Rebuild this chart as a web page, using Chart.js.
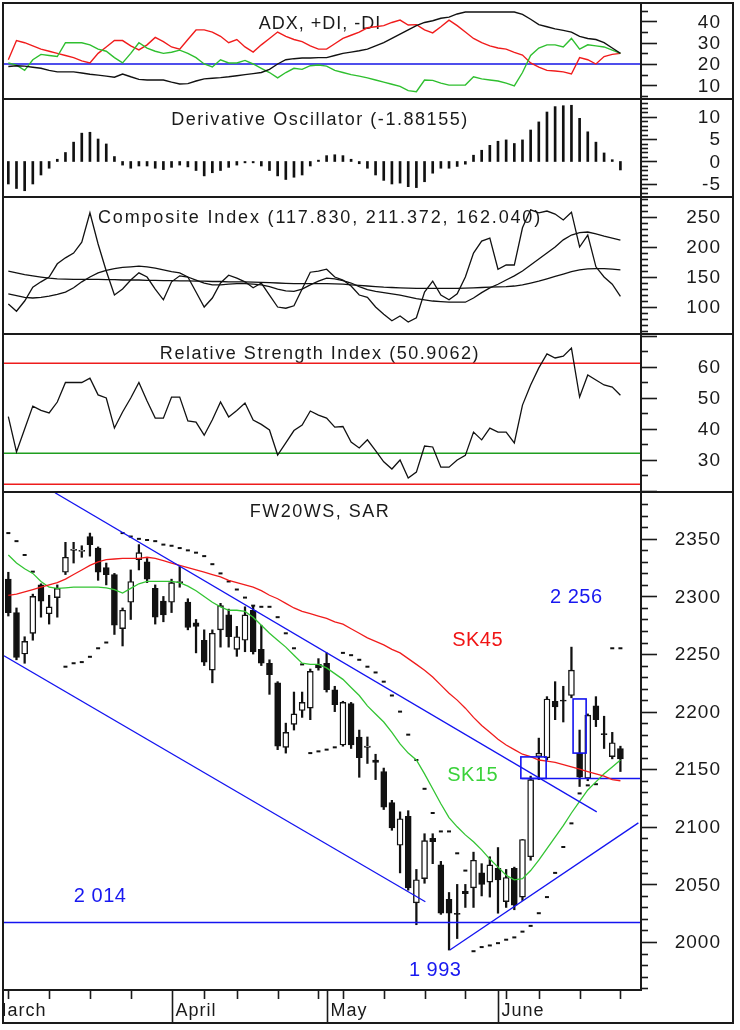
<!DOCTYPE html>
<html lang="en">
<head>
<meta charset="UTF-8">
<title>FW20WS, SAR</title>
<script src="https://cdn.jsdelivr.net/npm/chart.js"></script>
<style>
  html, body {
    margin: 0;
    padding: 0;
    background: #fff;
  }
  #wrap {
    position: relative;
    width: 740px;
    height: 1030px;
    overflow: hidden;
  }
  canvas {
    position: absolute;
    left: 4px;
  }
  .rule {
    position: absolute;
    background: #1a1a1a;
  }
  #frame {
    position: absolute;
    left: 2px;
    top: 2px;
    width: 732px;
    height: 1022px;
    border: 2px solid #1a1a1a;
    box-sizing: border-box;
  }
</style>
</head>
<body>
<div id="wrap">
  <canvas id="adx" width="718" height="94" style="top:4px"></canvas>
  <canvas id="dosc" width="718" height="96" style="top:100px"></canvas>
  <canvas id="comp" width="718" height="135" style="top:198px"></canvas>
  <canvas id="rsi" width="718" height="156" style="top:335px"></canvas>
  <canvas id="price" width="718" height="531" style="top:493px"></canvas>

  <div class="rule" style="left:2px;top:98px;width:732px;height:2px"></div>
  <div class="rule" style="left:2px;top:196px;width:732px;height:2px"></div>
  <div class="rule" style="left:2px;top:333px;width:732px;height:2px"></div>
  <div class="rule" style="left:2px;top:491px;width:732px;height:2px"></div>
  <div class="rule" style="left:2px;top:989px;width:640px;height:2px"></div>
  <div class="rule" style="left:640px;top:2px;width:2px;height:988px"></div>
  <div id="frame"></div>
</div>

<script>
  // ---- data (one entry per trading day, March .. June) ----
  const opens  = [2315,2286,2250,2268,2310,2285,2299,2321,2340,2339, 2352,2342,2325,2319,2272,2295,2332,2330,2307,2296,
                  2295,2312,2295,2277,2262,2236,2271,2284,2254,2262, 2288,2254,2242,2225,2169,2189,2201,2203,2241,2242,
                  2219,2171,2207,2178,2169,2158,2148,2121,2084,2109, 2034,2055,2090,2067,2037,2025,2044,2047,2060,2052,
                  2064,2035,2064,2039,2074,2161,2160,2209,2210,2214, 2164,2142,2205,2181,2161,2168];
  const highs  = [2321,2290,2265,2302,2311,2301,2310,2347,2347,2344, 2355,2343,2329,2320,2290,2323,2345,2333,2310,2300,
                  2315,2326,2298,2280,2271,2271,2294,2289,2274,2291, 2292,2275,2245,2226,2190,2217,2217,2237,2246,2251,
                  2222,2209,2208,2184,2178,2163,2151,2123,2113,2114, 2063,2094,2094,2070,2043,2050,2050,2078,2068,2074,
                  2082,2063,2065,2089,2144,2177,2213,2226,2222,2256, 2184,2198,2213,2196,2182,2170];
  const lows   = [2283,2245,2242,2262,2282,2276,2282,2319,2329,2334, 2335,2314,2310,2267,2257,2280,2323,2312,2276,2278,
                  2286,2308,2271,2251,2240,2225,2256,2256,2248,2252, 2250,2240,2215,2167,2164,2184,2195,2193,2236,2217,
                  2200,2170,2168,2143,2155,2141,2115,2097,2060,2045, 2015,2051,2068,2024,1993,2003,2030,2030,2040,2039,
                  2025,2030,2028,2036,2071,2141,2158,2193,2191,2212, 2135,2140,2187,2168,2159,2148];
  const closes = [2286,2247,2261,2300,2296,2291,2307,2334,2341,2340, 2345,2321,2319,2275,2288,2313,2338,2315,2282,2284,
                  2312,2313,2273,2274,2243,2268,2292,2265,2265,2284, 2252,2242,2232,2170,2182,2198,2208,2235,2238,2219,
                  2206,2208,2171,2160,2170,2156,2117,2099,2107,2047, 2054,2088,2087,2025,2025,2024,2042,2071,2050,2067,
                  2054,2056,2032,2089,2141,2164,2211,2204,2209,2236, 2143,2197,2193,2180,2173,2159];

  const sk15 = [2336,2329,2324,2320,2313,2308,2307,2307.5,2308,2308, 2308,2308,2307.5,2306,2303,2307,2311,2313,2313,2313,
                2313,2312,2309,2305,2300,2295,2291,2288,2288,2287, 2282,2275,2268,2262,2256,2249,2242,2241,2241,2238,
                2233,2228,2221,2214,2205,2198,2191,2182,2172,2164, 2158,2146,2133,2120,2108,2100,2093,2087,2080,2072,
                2065,2058,2054,2055,2062,2071,2081,2091,2101,2112, 2122,2132,2139,2146,2152,2158];
  const sk45 = [2301,2302,2304,2306,2308,2310,2312,2315,2319,2323, 2327,2330,2332,2332.5,2333,2333,2333,2334,2333,2331,
                2329,2327,2325,2323,2321,2319,2317,2314,2312,2310, 2308,2305,2301,2298,2294,2290,2287,2285,2283,2281,
                2278,2276,2272,2268,2264,2261,2258,2254,2251,2246, 2241,2236,2230,2223,2216,2210,2203,2195,2188,2182,
                2176,2171,2167,2163,2161,2158,2157,2156,2154,2152, 2150,2148,2146,2144,2141,2140];
  const sar  = [2355,2348,2336,2321.5,null,null,null,2239,2242,2243, 2247.6,2255,2260,null,2355,2352,2350,2349,2348,2345,
                2344,2342,2340,2338,2335,2328,2320,2313,2306,2299, 2292,2291,2291,2282,2268,2255,2241,2164,2165.5,2167,
                2169,2251,2249,2245,2239,2234,2226,2214,2200,2180, 2158,2133,2112,2096,2096,2077,2062,1992,1995.6,1997,
                1999,2002,2004,2009,2014,2025,2039,2060,2082.5,2103, 2129,2136,2137,null,2255,2255];

  const adx     = [18.8,19.2,19,18.5,18,17,16.3,16.3,16.3,15.8, 15.2,14.8,14.3,13.8,15.3,14,12.8,12.5,12.5,12.5,
                   11.5,10.6,10.8,12,13,13.3,13.6,14,14.5,15, 15.5,16,17.5,20,22,22.5,22.8,22.8,23,23,
                   24,25,25.6,26.2,27,28.5,30,32,34,36, 38,39.5,40.3,41.5,42,43.5,44.4,44.4,44.4,44.4,
                   44.4,44.4,44.4,43.3,41,38.5,37.5,36.5,35.8,35, 33,32,31.5,30,27.5,25];
  const plusDI  = [20.5,19.5,17,22,24.5,24,23.5,30,30,30, 29,27,26,23,20.5,25,30,27.5,26,25,
                   25.5,26.5,25,23,20,18.6,22,20.5,20.5,21.7, 20,18,16,13.5,16,18,17.5,19.2,19.5,19,
                   17,16,15,14.3,13.5,12.5,11.5,10.5,9.5,7.5, 7,12.5,12.3,11,10.1,10.1,10.1,14,13,12.5,
                   12,11,9.7,16,24,27.5,29,29,28,32, 27,29,28.5,28,26.5,25];
  const minusDI = [22,31,30,28.5,27,26,25,24,23,21.5, 20.5,25,28,31,31,28.5,26.6,29,32.5,30.5,
                   28,27,31.5,36,36,35,33,30,31.5,28, 25.6,29,32,35,33,31.5,30.5,28.5,27,27,
                   29.5,32,33.5,35,37,37.5,38,39.5,40.6,38.3, 38.5,36,34.6,37.5,40.6,38,35,32,30,28.5,
                   27.5,27,25.5,24.2,20.5,18.5,17,16.7,16.3,15.3, 23,22,20,23.5,24.5,25];
  const adxLevel = 20;

  const derivOsc = [-5,-6,-6.5,-5,-3,-1.5,0.5,2,4.3,6.3, 6.5,5,3.9,1.1,-0.8,-1.5,-1,-1,-1.5,-1.8,
                    -1.3,-0.8,-1.2,-2,-3.2,-2.5,-2,-1.3,-0.8,-0.3, -0.3,-1,-2,-3.2,-4,-3.5,-3,-1,0.3,1.3,
                    1.5,1.3,0.5,-0.5,-1.5,-3,-4.2,-5,-4.8,-5.6, -5.8,-4.5,-2.6,-1.5,-1.5,-1.1,-0.6,1.4,2.5,3.6,
                    4.5,4.8,4,4.8,7,8.8,11,12.2,12.4,12.5, 9.6,6.6,4.3,1.9,0.4,-1.88155];

  const composite = [105,93,110,133,142,150,172,182,190,208, 257,205,160,120,130,145,157,150,130,112,
                     142,152,150,125,100,115,140,153,148,142, 132,140,120,100,98,102,130,158,160,163,
                     150,145,135,120,116,100,88,77,85,75, 82,125,143,120,112,122,150,190,210,215,
                     163,170,170,232,262,257,260,255,245,258, 200,220,167,150,138,117.83];
  const compFast = [122,119,116,115,116,118,121,125,132,142, 150,157,161,164,166,167,168,167,165,162,
                    159,157,150,145,140,137,137,138,139,139, 138,137,134,130,127,126,130,137,143,148,
                    147,144,140,134,129,126,124,122,120,117, 114,112,110,109,108,108,108,115,124,132,
                    138,145,152,160,170,180,190,200,212,220, 224,225,222,218,215,211.372];
  const compSlow = [160,157,154,152,150,148,147,146.5,146,146, 146,146,145.5,145.5,145,145,145,144.5,144.5,144,
                    144,143.5,143.5,143,143,142.5,142.5,142,142,142, 141.5,141,140.5,140,139.5,139,139,139,139,139,
                    138.5,138,137,136,135,134,133,132.5,132,131.5, 131,131,131,131,131,131,131.5,132,132.5,133,
                    133.5,134,135,137,140,143,147,151,155,159, 162,163.5,164,164,163,162.04];

  const rsi = [44,32.6,40,47.4,46,45.2,48.7,55,55,55, 56.4,51,50,40.3,45.5,50,55,49,43.5,43.5,
               50.3,50.3,42.6,42.2,38,43,48.7,43.9,46,48.4, 42.9,41.5,39.7,31.6,35.5,39.5,41.3,45.8,44.5,43.5,
               40.6,40.8,35.8,33.9,36.5,33,29.4,27.1,30,24.2, 26.1,34.5,34.2,27.7,27.7,30,31.5,39,36.5,40.3,
               39,39,35.5,47.7,54.2,59.7,64.2,62.9,63.5,66.1, 50.3,57.4,55.8,54.2,53.5,50.9062];
  const rsiLevels = [61.2, 32.2, 22.2];

  // trend lines: [fromDay, fromValue, toDay, toValue]
  const trendLines = [[5.72, 2390, 72.1, 2113], [-0.53, 2248.5, 51.1, 2035], [54.1, 1993, 77.2, 2103.4]];
  const supportLevel = 2017;
  const breakoutLevel = [62.9, 2142];
  const boxes = [[62.8, 2142, 65.9, 2160.7], [69.2, 2164, 70.8, 2211]];
  const notes = [['SK45', 57.5, 2261.5, '#f01414'], ['SK15', 56.9, 2144.5, '#3ad23a'],
                 ['2 256', 69.6, 2299, '#1818f0'], ['2 014', 11.25, 2039.5, '#1818f0'], ['1 993', 52.3, 1975.7, '#1818f0']];

  const monthNames = ['March', 'April', 'May', 'June'];
  const monthStarts = [-2.5, 20, 39, 60];
  const weekTicks = [0, 5, 10, 15, 24, 28, 33, 38, 41, 46, 51, 56, 61, 65, 70, 75];

  // ---- drawing ----
  const X_MIN = -0.53, X_MAX = 77.4;
  const FONT = '"Liberation Sans", Arial, sans-serif';
  const INK = '#1a1a1a';

  const pts = arr => arr.map((v, i) => (v == null ? null : { x: i, y: v })).filter(Boolean);

  function line(arr, color, width) {
    return { type: 'line', data: pts(arr), borderColor: color, borderWidth: width || 1.3,
             pointRadius: 0, tension: 0, fill: false, order: 1 };
  }
  function level(value, color, from) {
    return { type: 'line', data: [{ x: from == null ? X_MIN : from, y: value }, { x: X_MAX, y: value }],
             borderColor: color, borderWidth: 1.5, pointRadius: 0, order: 2 };
  }

  const paneAxis = {
    id: 'paneAxis',
    beforeDatasetsDraw(chart, args, o) {
      const { ctx, chartArea: a } = chart;
      ctx.save();
      ctx.font = '18px ' + FONT;
      ctx.letterSpacing = o.spacing || '1.5px';
      ctx.fillStyle = INK;
      ctx.textAlign = 'center';
      ctx.textBaseline = 'alphabetic';
      ctx.fillText(o.title, a.left + 316, a.top + o.titleY);
      ctx.restore();
    },
    afterDraw(chart, args, o) {
      const { ctx, chartArea: a } = chart;
      const ys = chart.scales.y;
      ctx.save();
      ctx.strokeStyle = INK;
      ctx.lineWidth = 1.6;
      const k0 = Math.ceil(ys.min / o.minor), k1 = Math.floor(ys.max / o.minor);
      for (let k = k0; k <= k1; k++) {
        const v = k * o.minor;
        const p = Math.round(ys.getPixelForValue(v)) + 0.5;
        const big = Math.abs(v % o.major) < 1e-6;
        ctx.beginPath();
        ctx.moveTo(a.right, p);
        ctx.lineTo(a.right + (big ? 17 : 8), p);
        ctx.stroke();
      }
      ctx.font = '19px ' + FONT;
      ctx.letterSpacing = '1px';
      ctx.fillStyle = INK;
      ctx.textAlign = 'right';
      ctx.textBaseline = 'middle';
      o.labels.forEach(v => ctx.fillText(String(v), chart.width - 1, ys.getPixelForValue(v) + 1));
      ctx.restore();
    }
  };

  function paneOptions(yMin, yMax, axis, bottomPad) {
    return {
      responsive: false,
      animation: false,
      devicePixelRatio: 1,
      events: [],
      layout: { autoPadding: false, padding: { left: 0, top: 0, right: 82, bottom: bottomPad || 0 } },
      scales: {
        x: { type: 'linear', min: X_MIN, max: X_MAX, offset: false, display: false },
        y: { type: 'linear', min: yMin, max: yMax, beginAtZero: false, display: false }
      },
      plugins: { legend: { display: false }, tooltip: { enabled: false }, paneAxis: axis }
    };
  }

  // ADX, +DI, -DI
  new Chart(document.getElementById('adx'), {
    type: 'line',
    data: { datasets: [
      line(adx, '#111', 1.4), line(plusDI, '#2fbf2f', 1.4), line(minusDI, '#f01c1c', 1.4),
      level(adxLevel, '#1414e6')
    ] },
    options: paneOptions(4.04, 48.17, { title: 'ADX, +DI, -DI', titleY: 25, spacing: '1px', minor: 5, major: 10, labels: [10, 20, 30, 40] }),
    plugins: [paneAxis]
  });

  // Derivative Oscillator
  new Chart(document.getElementById('dosc'), {
    type: 'line',
    data: { datasets: [{
      type: 'bar', data: pts(derivOsc), backgroundColor: '#111', barThickness: 2, grouped: false
    }] },
    options: paneOptions(-7.67, 13.67, { title: 'Derivative Oscillator (-1.88155)', titleY: 25, spacing: '1.55px', minor: 1, major: 5, labels: [10, 5, 0, -5] }),
    plugins: [paneAxis]
  });

  // Composite Index
  new Chart(document.getElementById('comp'), {
    type: 'line',
    data: { datasets: [line(composite, '#111', 1.3), line(compFast, '#111', 1.3), line(compSlow, '#111', 1.3)] },
    options: paneOptions(56.7, 281.7, { title: 'Composite Index (117.830, 211.372, 162.040)', titleY: 25, spacing: '1.85px', minor: 10, major: 50, labels: [100, 150, 200, 250] }),
    plugins: [paneAxis]
  });

  // Relative Strength Index
  new Chart(document.getElementById('rsi'), {
    type: 'line',
    data: { datasets: [
      line(rsi, '#111', 1.3),
      level(rsiLevels[0], '#ee1c1c'), level(rsiLevels[1], '#1f9e1f'), level(rsiLevels[2], '#ee1c1c')
    ] },
    options: paneOptions(20.0, 70.32, { title: 'Relative Strength Index (50.9062)', titleY: 24, spacing: '1.55px', minor: 5, major: 10, labels: [30, 40, 50, 60] }),
    plugins: [paneAxis]
  });

  // price: candles, SAR, averages, trend lines
  const days = opens.map((_, i) => i);
  const upDays = days.filter(i => closes[i] >= opens[i]);
  const downDays = days.filter(i => closes[i] < opens[i]);

  const priceExtras = {
    id: 'priceExtras',
    afterDatasetsDraw(chart) {
      const { ctx } = chart;
      const xs = chart.scales.x, ys = chart.scales.y;
      ctx.save();
      ctx.strokeStyle = '#1414f0';
      ctx.lineWidth = 1.6;
      boxes.forEach(([x0, v0, x1, v1]) => {
        const l = xs.getPixelForValue(x0), r = xs.getPixelForValue(x1);
        const t = ys.getPixelForValue(v1), b = ys.getPixelForValue(v0);
        ctx.strokeRect(l, t, r - l, b - t);
      });
      ctx.font = '20px ' + FONT;
      ctx.letterSpacing = '0.5px';
      ctx.textAlign = 'center';
      ctx.textBaseline = 'middle';
      notes.forEach(([text, x, v, color]) => {
        ctx.fillStyle = color;
        ctx.fillText(text, xs.getPixelForValue(x), ys.getPixelForValue(v));
      });
      ctx.restore();
    },
    afterDraw(chart) {
      const { ctx, chartArea: a } = chart;
      const xs = chart.scales.x;
      ctx.save();
      ctx.strokeStyle = INK;
      ctx.lineWidth = 1.6;
      weekTicks.forEach(i => {
        const p = Math.round(xs.getPixelForValue(i)) + 0.5;
        ctx.beginPath(); ctx.moveTo(p, a.bottom); ctx.lineTo(p, a.bottom + 10); ctx.stroke();
      });
      ctx.font = '18px ' + FONT;
      ctx.letterSpacing = '1px';
      ctx.fillStyle = INK;
      ctx.textAlign = 'left';
      ctx.textBaseline = 'alphabetic';
      monthStarts.forEach((i, k) => {
        const p = Math.round(xs.getPixelForValue(i)) + 0.5;
        ctx.beginPath(); ctx.moveTo(p, a.bottom); ctx.lineTo(p, chart.height); ctx.stroke();
        ctx.fillText(monthNames[k], p + 3, a.bottom + 27);
      });
      ctx.restore();
    }
  };

  new Chart(document.getElementById('price'), {
    type: 'line',
    data: { datasets: [
      { type: 'bar', data: days.map(i => ({ x: i, y: [lows[i], highs[i]] })), backgroundColor: '#111',
        barThickness: 1.6, grouped: false, order: 6 },
      { type: 'bar', data: upDays.map(i => ({ x: i, y: [opens[i], closes[i]] })), backgroundColor: '#fff',
        borderColor: '#111', borderWidth: 1.4, borderSkipped: false, barThickness: 6, grouped: false, order: 5 },
      { type: 'bar', data: downDays.map(i => ({ x: i, y: [opens[i], closes[i]] })), backgroundColor: '#111',
        borderColor: '#111', borderWidth: 1, borderSkipped: false, barThickness: 6, grouped: false, order: 5 },
      { type: 'line', data: pts(sar), showLine: false, pointStyle: 'line', pointRadius: 2,
        pointBorderWidth: 2, pointBorderColor: '#111', borderColor: '#111', order: 4 },
      line(sk45, '#f01c1c', 1.3),
      line(sk15, '#33c433', 1.3),
      level(supportLevel, '#1414f0'),
      level(breakoutLevel[1], '#1414f0', breakoutLevel[0]),
      ...trendLines.map(([x0, v0, x1, v1]) => ({
        type: 'line', data: [{ x: x0, y: v0 }, { x: x1, y: v1 }], borderColor: '#1414f0',
        borderWidth: 1.3, pointRadius: 0, order: 0
      }))
    ] },
    options: paneOptions(1959.2, 2389.8, { title: 'FW20WS, SAR', titleY: 24, spacing: '1.5px', minor: 10, major: 50,
      labels: [2000, 2050, 2100, 2150, 2200, 2250, 2300, 2350] }, 35),
    plugins: [paneAxis, priceExtras]
  });
</script>
</body>
</html>
